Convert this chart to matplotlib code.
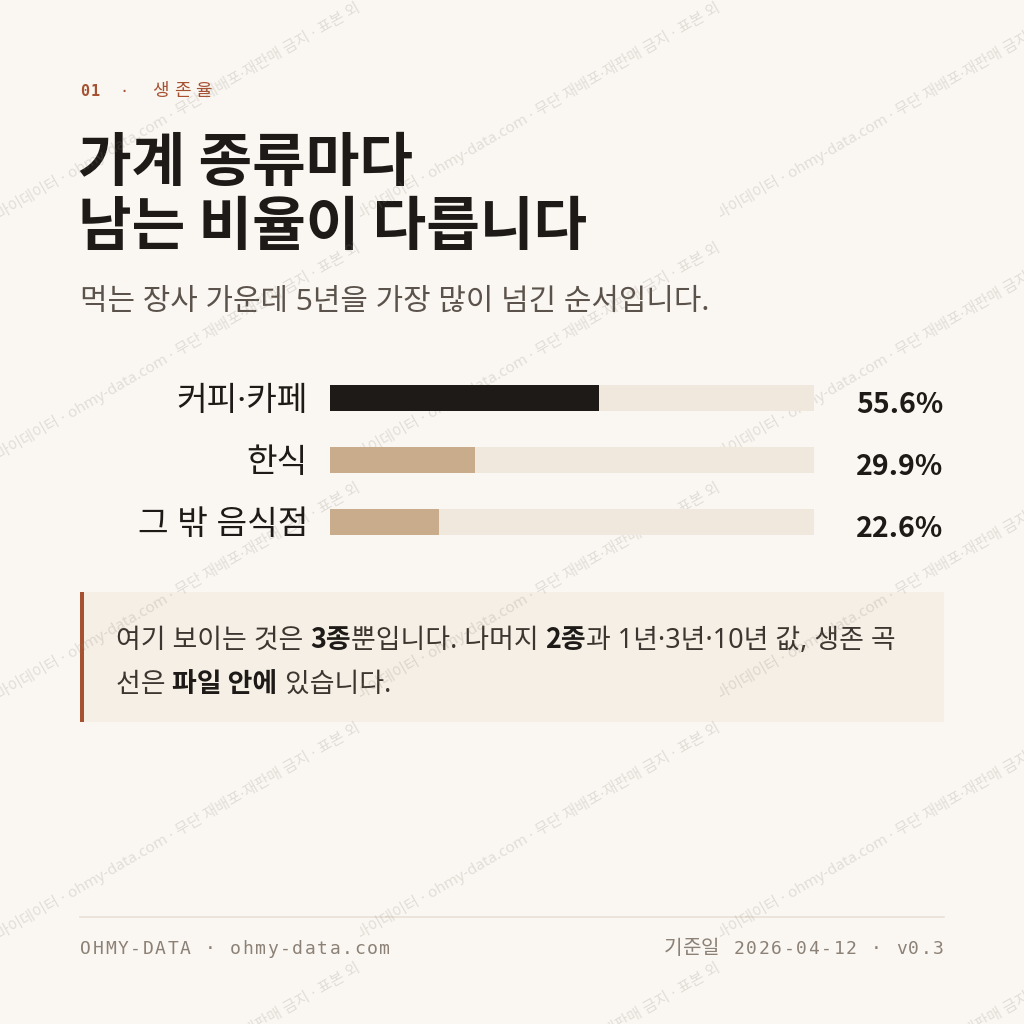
import matplotlib
matplotlib.use('Agg')
import matplotlib.pyplot as plt
from matplotlib.patches import Rectangle
from matplotlib.transforms import Bbox

# data
categories = ['커피·카페', '한식', '그 밖 음식점']
survival_5y = [55.6, 29.9, 22.6]
scale_max = 100
value_labels = [f'{v:.1f}%' for v in survival_5y]

KR = ['Noto Sans', 'Noto Sans CJK KR']
KR_BOLD = 'Noto Sans CJK KR'
MONO = ['DejaVu Sans Mono', 'Noto Sans CJK KR']
BG = '#faf7f2'
INK = '#1e1a17'
RUST = '#a65232'
TAN = '#c9ac8c'
TRACK = '#f0e8dc'
bar_colors = [INK, TAN, TAN]

fig = plt.figure(figsize=(10.24, 10.24), dpi=100, facecolor=BG)
bg = fig.add_axes([0, 0, 1, 1])
bg.set_xlim(0, 1024)
bg.set_ylim(1024, 0)
bg.axis('off')
renderer = fig.canvas.get_renderer()


def text_w(s, **kw):
    # advance width in px, spaces included
    a = bg.text(0, 0, '|' + s + '|', **kw)
    b = bg.text(0, 0, '||', **kw)
    w = a.get_window_extent(renderer).width - b.get_window_extent(renderer).width
    a.remove()
    b.remove()
    return w


def spaced(x, y, s, gap, **kw):
    for ch in s:
        bg.text(x, y, ch, ha='left', va='baseline', **kw)
        x += text_w(ch, **kw) + gap
    return x


def rich(x, y, parts, size):
    for s, bold in parts:
        if bold:
            kw = dict(family=KR_BOLD, fontsize=size, color=INK, weight='bold')
        else:
            kw = dict(family=KR, fontsize=size, color='#3d3630')
        bg.text(x, y, s, ha='left', va='baseline', **kw)
        x += text_w(s, **kw)


# kicker
x = spaced(80, 96, '01', 2, family=MONO, fontsize=11, weight='bold', color=RUST)
x = spaced(x + 17, 96, '·', 0, family=MONO, fontsize=11, color=RUST)
spaced(x + 24, 96, '생존율', 5, family=KR, fontsize=13, color=RUST)

# title
bg.text(78, 181, '가계 종류마다', family=KR_BOLD, fontsize=42, weight='bold',
        color=INK, ha='left', va='baseline')
bg.text(78, 245, '남는 비율이 다릅니다', family=KR_BOLD, fontsize=42, weight='bold',
        color=INK, ha='left', va='baseline')

# subtitle
bg.text(80, 310, '먹는 장사 가운데 5년을 가장 많이 넘긴 순서입니다.', family=KR,
        fontsize=21.5, color='#5b534b', ha='left', va='baseline')

# bars
ax = fig.add_axes([330 / 1024, 1 - 553 / 1024, 484 / 1024, 186 / 1024])
ax.set_xlim(0, scale_max)
ax.set_ylim(len(categories) - 0.5, -0.5)
ax.axis('off')
ypos = list(range(len(categories)))
ax.barh(ypos, [scale_max] * len(categories), height=0.42, color=TRACK)
ax.barh(ypos, survival_5y, height=0.42, color=bar_colors)
px = 484 / scale_max
for i, (c, v) in enumerate(zip(categories, value_labels)):
    ax.text(-22 / px, i + 0.19, c, ha='right', va='baseline', family=KR, fontsize=24,
            color=INK, clip_on=False)
    ax.text(613 / px, i + 0.24, v, ha='right', va='baseline', family=KR_BOLD,
            fontsize=20.5, weight='bold', color=INK, clip_on=False)

# note box
bg.add_patch(Rectangle((80, 592), 864, 130, facecolor='#f5efe6', edgecolor='none'))
bg.add_patch(Rectangle((80, 592), 3.5, 130, facecolor=RUST, edgecolor='none'))
rich(116, 648, [('여기 보이는 것은 ', False), ('3종', True), ('뿐입니다. 나머지 ', False),
                ('2종', True), ('과 1년·3년·10년 값, 생존 곡', False)], 19.4)
rich(116, 692, [('선은 ', False), ('파일 안에', True), (' 있습니다.', False)], 19.4)

# footer
bg.plot([80, 944], [917, 917], color='#e8e1d6', lw=1.2)
foot_kw = dict(family=MONO, fontsize=13, color='#8c8176')
spaced(80, 954, 'OHMY-DATA · ohmy-data.com', 1.6, **foot_kw)
date_part = ' 2026-04-12 · v0.3'
kr_kw = dict(family=KR, fontsize=14.5, color='#8c8176')
w_date = sum(text_w(ch, **foot_kw) + 1.6 for ch in date_part) - 1.6
w_kr = text_w('기준일', **kr_kw)
spaced(944 - w_date - w_kr - 2, 954, '기준일', 0, **kr_kw)
spaced(944 - w_date, 954, date_part, 1.6, **foot_kw)

# watermark
wm = '마이데이터 · ohmy-data.com · 무단 재배포·재판매 금지 · 표본 외 사용 금지'
for c in range(3):
    for r in range(-1, 5):
        t = bg.text(360 * c, 220 + 240 * r, wm, rotation=30, rotation_mode='anchor',
                    ha='left', va='baseline', family=KR, fontsize=11,
                    color='#8a7f73', alpha=0.22, zorder=10, clip_on=True)
        t.set_clip_box(Bbox([[360 * c, 0], [360 * c + 360, 1024]]))

fig.savefig('out.png', dpi=100, facecolor=BG)
